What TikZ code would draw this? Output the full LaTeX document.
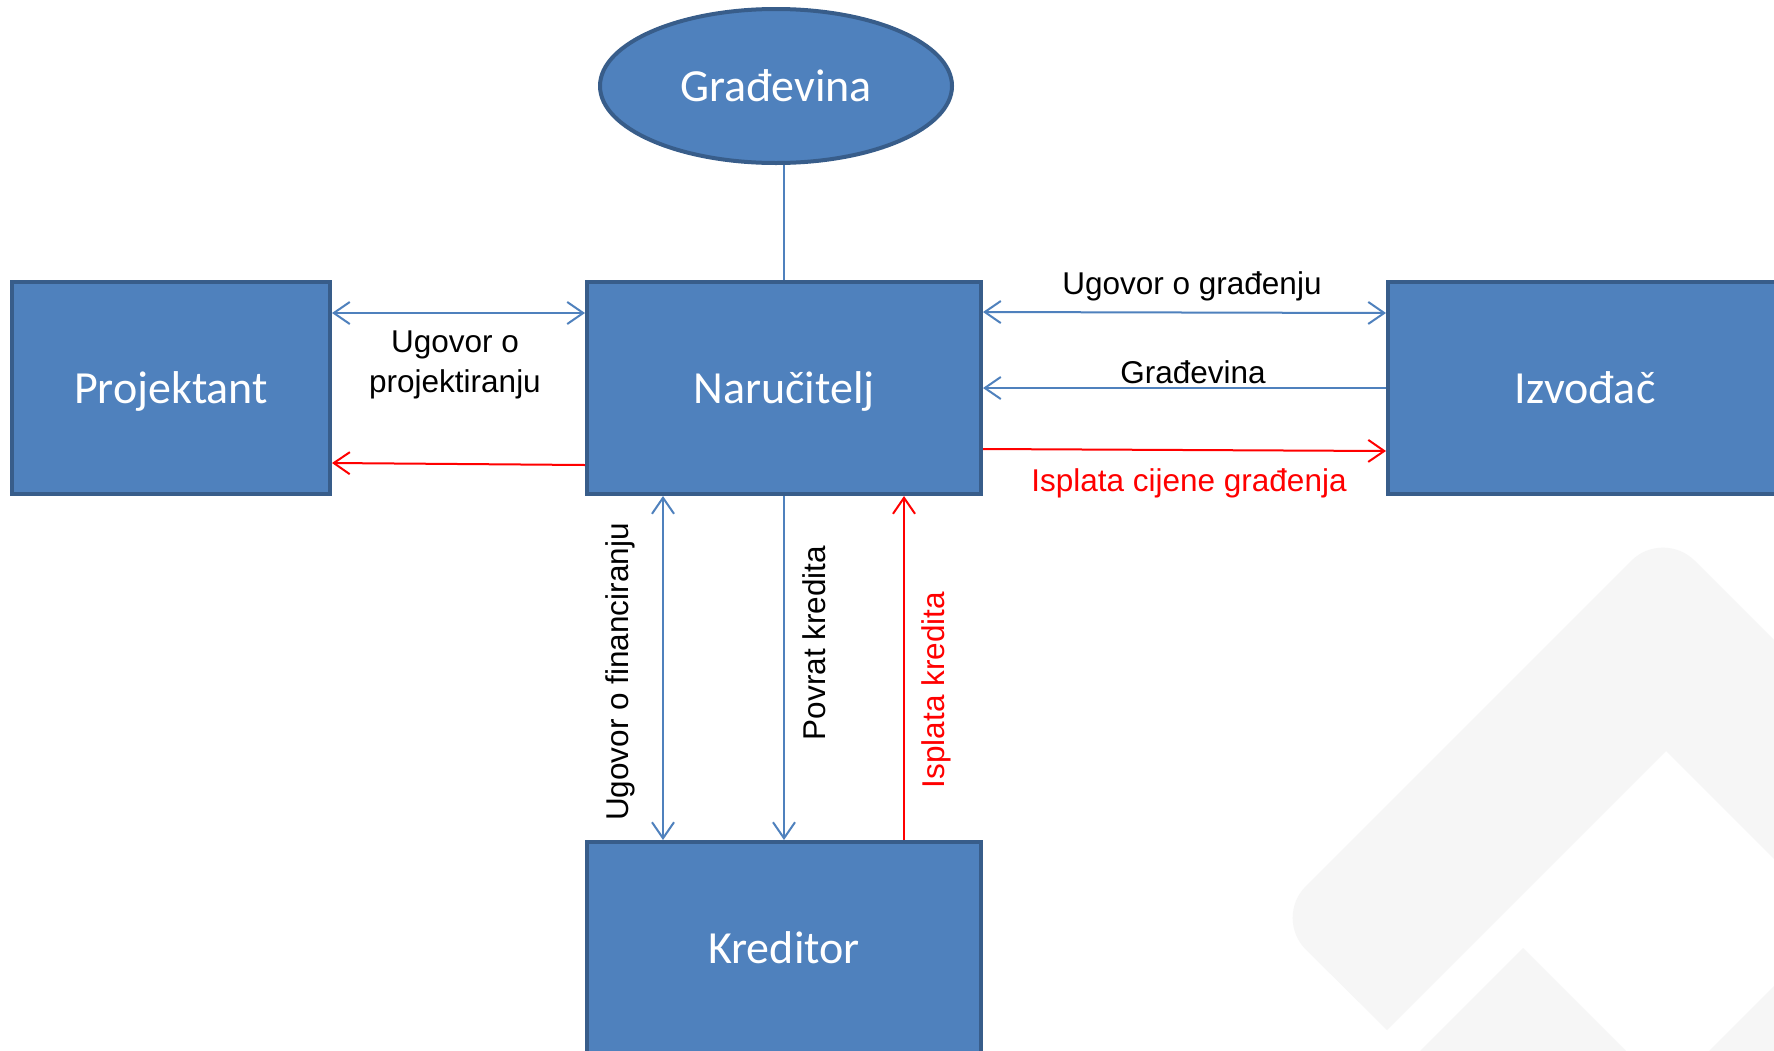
\documentclass[tikz,border=0pt]{standalone}
\usepackage{fontspec}
\setmainfont{Liberation Sans}
\newfontfamily\boxfont{Carlito}
\usetikzlibrary{arrows.meta,shapes.geometric,calc}
\definecolor{boxfill}{HTML}{4F81BD}
\definecolor{boxline}{HTML}{385D8A}
\definecolor{wmark}{RGB}{246,246,246}
\definecolor{redline}{HTML}{FF0000}
\tikzset{
  party/.style={rectangle, fill=boxfill, draw=boxline, line width=4pt,
    minimum height=212pt, text=white, inner sep=0pt, text depth=0pt,
    font=\boxfont\fontsize{46}{55}\selectfont},
  conn/.style={draw=boxfill, line width=2pt},
  redconn/.style={draw=redline, line width=2pt},
  lbl/.style={font=\fontsize{31.5}{40}\selectfont, text=black, inner sep=0pt, align=center},
  redlbl/.style={lbl, text=redline},
  >={Straight Barb[length=16pt,width=22pt]}
}
\begin{document}
\begin{tikzpicture}[x=1pt,y=-1pt]
\useasboundingbox (0,0) rectangle (1774,1050);
\clip (0,0) rectangle (1774,1050);
\fill[white] (0,0) rectangle (1774,1050);
% faint watermark
\fill[wmark] (1387,1030) [rounded corners=45pt] -- (1274,918) -- (1663,529) [sharp corners] -- (1812,678) -- (1812,897) -- (1666,751) -- cycle;
\fill[wmark] (1523,948) -- (1390,1081) -- (1656,1081) -- cycle;
\fill[wmark] (1690,1070) -- (1800,960) -- (1800,1070) -- cycle;
% nodes
\node[ellipse, fill=boxfill, draw=boxline, line width=4pt, minimum width=352pt,
      minimum height=154pt, inner sep=0pt, text=white,
      font=\boxfont\fontsize{46}{55}\selectfont] (ell) at (776,86) {Građevina};
\node[party, minimum width=318pt] (proj) at (171,388) {Projektant};
\node[party, minimum width=394pt] (nar) at (784,388) {Naručitelj};
\node[party, minimum width=394pt] (izv) at (1585,388) {Izvođač};
\node[party, minimum width=394pt] (kred) at (784,948) {Kreditor};
% connectors
\draw[conn] (ell.south -| nar.north) -- (nar.north);
\draw[conn, <->] ([yshift=75pt]proj.east) -- ([yshift=75pt]nar.west);
\draw[redconn, ->] ([yshift=-77pt]nar.west) -- ([yshift=-75pt]proj.east);
\draw[conn, <->] ([yshift=76pt]nar.east) -- ([yshift=75pt]izv.west);
\draw[conn, ->] (izv.west) -- (nar.east);
\draw[redconn, ->] ([yshift=-61pt]nar.east) -- ([yshift=-63pt]izv.west);
\draw[conn, <->] ([xshift=-121pt]nar.south) -- ([xshift=-121pt]kred.north);
\draw[conn, ->] (nar.south) -- (kred.north);
\draw[redconn, ->] ([xshift=120pt]kred.north) -- ([xshift=120pt]nar.south);
% labels
\node[lbl] (l1) at (455,365) {Ugovor o\\projektiranju};
\node[lbl] (l2) at (1192,286) {Ugovor o građenju};
\node[lbl] (l3) at (1193,372) {Građevina};
\node[redlbl] (l4) at (1189,483) {Isplata cijene građenja};
\node[lbl, rotate=90] (l5) at (620,672) {Ugovor o financiranju};
\node[lbl, rotate=90] (l6) at (814,643) {Povrat kredita};
\node[redlbl, rotate=90] (l7) at (936,690) {Isplata kredita};
\end{tikzpicture}
\end{document}
